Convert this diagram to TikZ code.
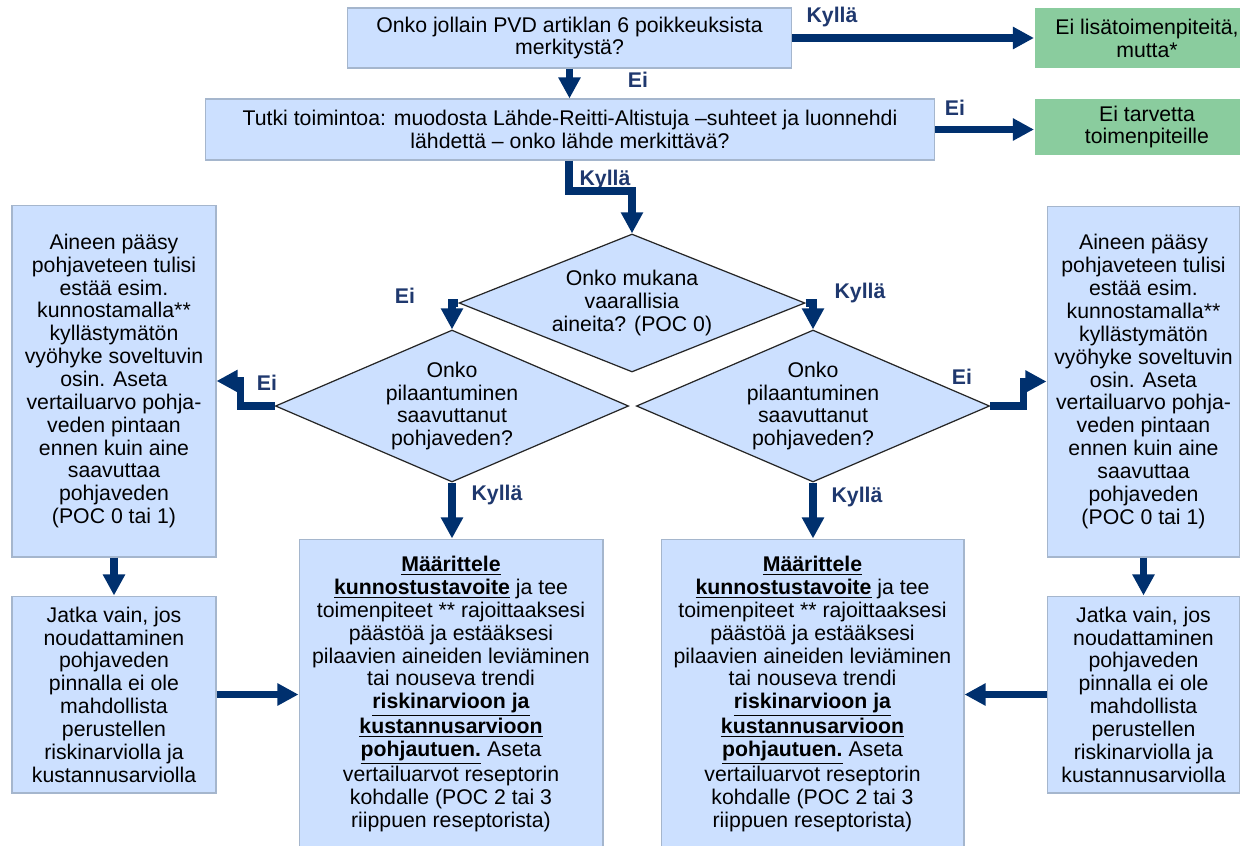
\documentclass[tikz,border=0pt]{standalone}
\usepackage{fontspec}
\setmainfont{Liberation Sans}
\usetikzlibrary{shapes.geometric,arrows.meta}

\definecolor{boxblue}{RGB}{204,224,255}
\definecolor{boxline}{RGB}{165,182,205}
\definecolor{boxgreen}{RGB}{138,204,158}
\definecolor{arrowblue}{RGB}{0,48,110}
\definecolor{labelblue}{RGB}{31,56,110}

\newcommand{\bodyfont}{\fontsize{12.1}{13}\selectfont}
\newcommand{\bu}[1]{\underline{\textbf{#1}}}

\newcommand{\poctext}{Aineen pääsy\\ pohjaveteen tulisi\\ estää esim.\\ kunnostamalla**\\ kyllästymätön\\ vyöhyke soveltuvin\\ osin. Aseta\\ vertailuarvo pohja-\\ veden pintaan\\ ennen kuin aine\\ saavuttaa\\ pohjaveden\\ (POC 0 tai 1)}
\newcommand{\jatkatext}{Jatka vain, jos\\ noudattaminen\\ pohjaveden\\ pinnalla ei ole\\ mahdollista\\ perustellen\\ riskinarviolla ja\\ kustannusarviolla}
\newcommand{\kunnostext}{\bu{Määrittele}\\ \bu{kunnostustavoite} ja tee\\ toimenpiteet ** rajoittaaksesi\\ päästöä ja estääksesi\\ pilaavien aineiden leviäminen\\ tai nouseva trendi\\ \bu{riskinarvioon ja}\\ \bu{kustannusarvioon}\\ \bu{pohjautuen.} Aseta\\ vertailuarvot reseptorin\\ kohdalle (POC 2 tai 3\\ riippuen reseptorista)}

\tikzset{
  box/.style={rectangle, fill=boxblue, draw=boxline, line width=0.6pt, align=center, inner sep=0pt, font=\bodyfont},
  endbox/.style={box, fill=boxgreen, draw=none},
  question/.style={diamond, shape aspect=2.5, fill=boxblue, draw=black!85, line width=0.7pt, align=center, inner sep=0pt, minimum width=6.92cm, font=\bodyfont},
  flow/.style={draw=arrowblue, line width=4pt, -{Triangle[length=12pt,width=12pt]}},
  answer/.style={text=labelblue, font=\bodyfont\bfseries}
}

\begin{document}
\begin{tikzpicture}[x=0.02cm, y=-0.02cm]
\useasboundingbox (0,0) rectangle (1240,845);

% top row
\node[box, minimum width=8.9cm, minimum height=1.2cm] (q1) at (569.5,38) {Onko jollain PVD artiklan 6 poikkeuksista\\ merkitystä?};
\node[endbox, minimum width=4.5cm, minimum height=1.2cm] (g1) at (1147,38) {Ei lisätoimenpiteitä,\\ mutta*};
\node[box, minimum width=14.6cm, minimum height=1.22cm] (q2) at (570,129.5) {Tutki toimintoa: muodosta Lähde-Reitti-Altistuja –suhteet ja luonnehdi\\ lähdettä – onko lähde merkittävä?};
\node[endbox, minimum width=4.5cm, minimum height=1.14cm] (g2) at (1147,127) {Ei tarvetta\\ toimenpiteille};

% diamonds
\node[question, minimum height=2.76cm] (d1) at (632,303) {Onko mukana\\ vaarallisia\\ aineita? (POC 0)};
\node[question, minimum height=3.04cm] (d2) at (452,406) {Onko\\ pilaantuminen\\ saavuttanut\\ pohjaveden?};
\node[question, minimum height=3.04cm] (d3) at (813,406) {Onko\\ pilaantuminen\\ saavuttanut\\ pohjaveden?};

% side boxes
\node[box, minimum width=4.08cm, minimum height=7.04cm] (l1) at (114,381) {\poctext};
\node[box, minimum width=3.86cm, minimum height=7.02cm] (r1) at (1143.5,381.5) {\poctext};
\node[box, minimum width=4.08cm, minimum height=3.94cm] (l2) at (114,694.5) {\jatkatext};
\node[box, minimum width=3.86cm, minimum height=3.94cm] (r2) at (1143.5,694.5) {\jatkatext};

% bottom boxes
\node[box, minimum width=6.08cm, minimum height=6.2cm] (b1) at (451,694) {\kunnostext};
\node[box, minimum width=6.06cm, minimum height=6.2cm] (b2) at (812.5,694) {\kunnostext};

% answers
\foreach \n/\x/\y/\t in {a1/832/17/Kyllä, a2/638/80/Ei, a3/955/108/Ei, a4/605/180/Kyllä,
  a5/405/296/Ei, a6/860/293/Kyllä, a7/267/383/Ei, a8/962/377/Ei, a9/497/495/Kyllä, a10/857/497/Kyllä}
  \node[answer] (\n) at (\x,\y) {\t};

% connectors
\coordinate (k1) at (569,191);
\draw[flow] (q1.east) -- (g1.west |- q1.east);
\draw[flow] (q1.south) -- (q1.south |- q2.north);
\draw[flow] (q2.east) -- (q2.east -| g2.west);
\draw[flow] (q2.south -| k1) -- (k1) -| (d1.north);
\draw[flow] (d1.west) -| (d2.north);
\draw[flow] (d1.east) -| (d3.north);
\draw[flow] (d2.west) -- ++(-34,0) |- (l1.east);
\draw[flow] (d3.east) -- ++(33,0) |- (r1.west);
\draw[flow] (d2.south) -- (d2.south |- b1.north);
\draw[flow] (d3.south) -- (d3.south |- b2.north);
\draw[flow] (l1.south) -- (l2.north);
\draw[flow] (r1.south) -- (r2.north);
\draw[flow] (l2.east) -- (l2.east -| b1.west);
\draw[flow] (r2.west) -- (r2.west -| b2.east);
\end{tikzpicture}
\end{document}
